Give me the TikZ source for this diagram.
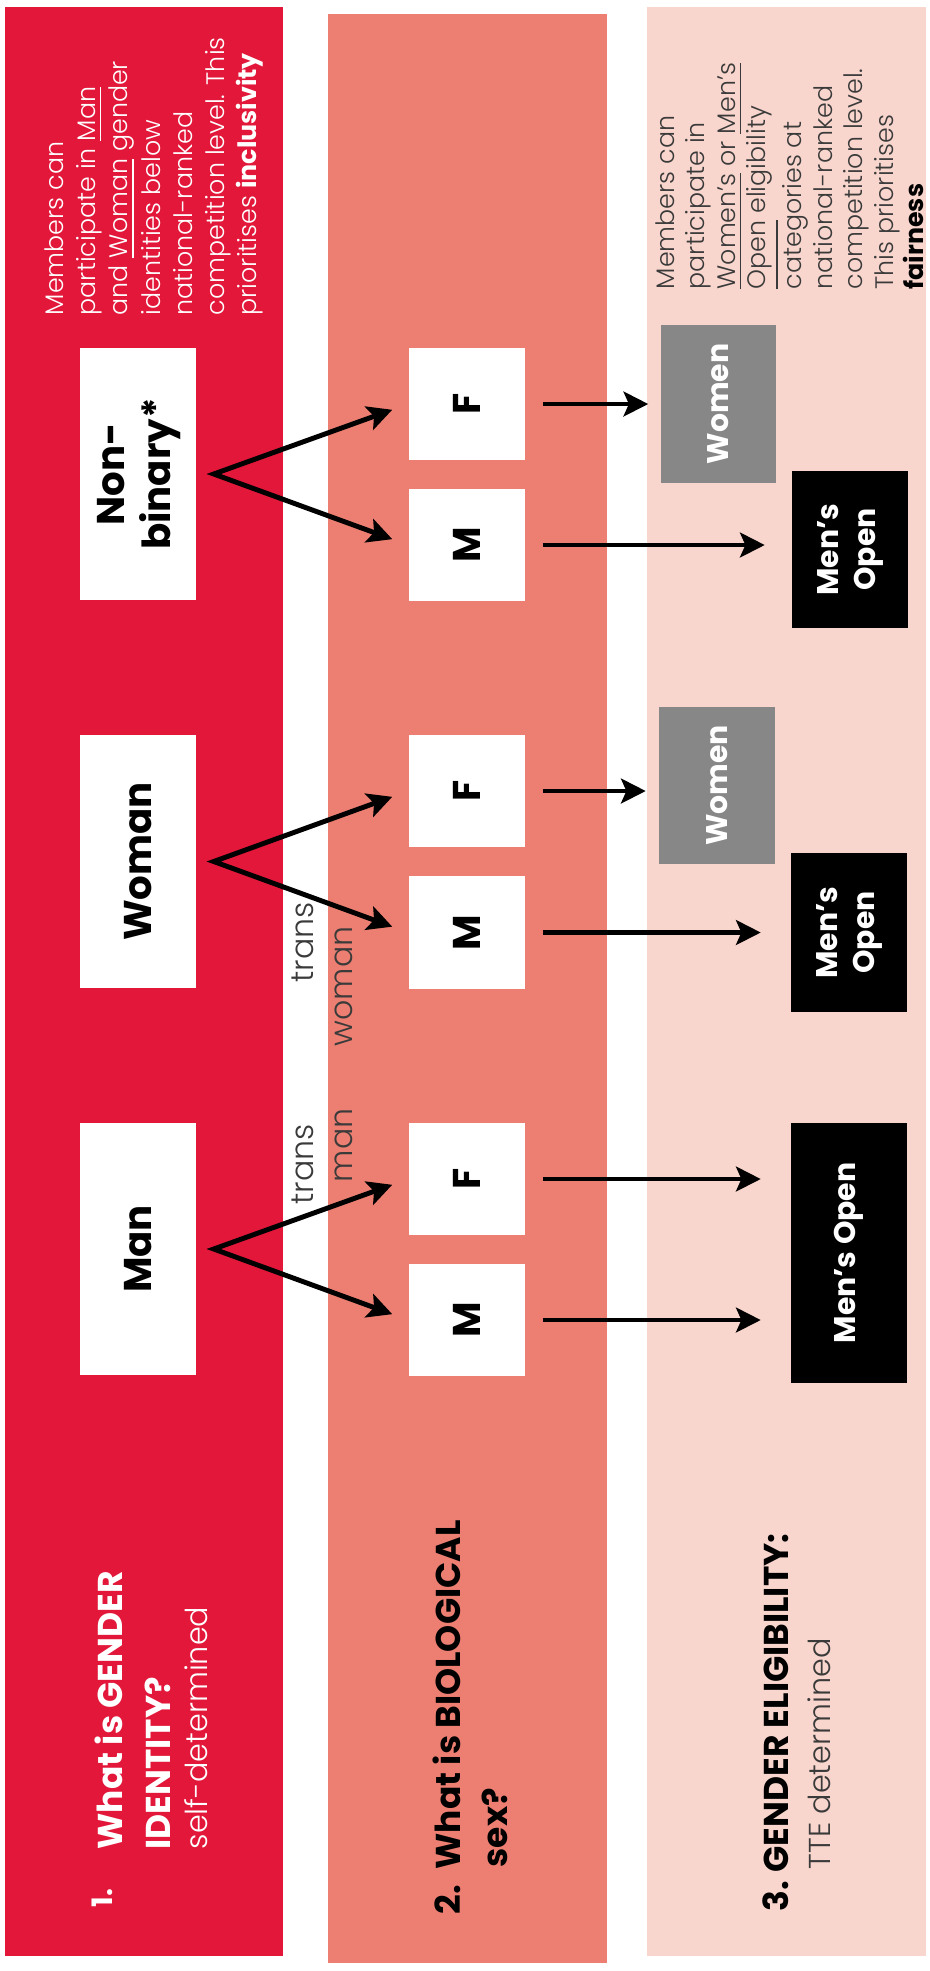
\documentclass[tikz,border=0pt]{standalone}
\usepackage{fontspec}
\setmainfont{Poppins}
\newfontfamily\lt{Poppins}[UprightFont=* Light, BoldFont=* Bold]
\usetikzlibrary{arrows.meta}
\definecolor{cred}{HTML}{E2173A}
\definecolor{csalmon}{HTML}{EC7F72}
\definecolor{cpale}{HTML}{F9D6CD}
\definecolor{cgraybox}{HTML}{878787}
\definecolor{cdark}{HTML}{3A3A3A}
\tikzset{
  wbox/.style={fill=white, inner sep=0pt, minimum width=1.16cm, font=\bfseries\fontsize{11}{13}\selectfont},
  sbox/.style={wbox, minimum height=1.12cm},
  gbox/.style={fill=cgraybox, text=white, inner sep=0pt, minimum width=1.15cm, font=\bfseries\fontsize{8.5}{10.5}\selectfont},
  kbox/.style={gbox, fill=black},
  rtext/.style={rotate=90, inner sep=0pt, anchor=base west},
  arr/.style={line width=1.4pt, -{Stealth[length=7pt, width=7pt, inset=1.5pt]}, shorten <=0.17cm},
  fork/.style={line width=1.4pt, {Stealth[length=7pt, width=7pt, inset=1.5pt]}-{Stealth[length=7pt, width=7pt, inset=1.5pt]}, shorten <=0.17cm, shorten >=0.17cm, line join=miter},
  hd/.style={rtext, font=\bfseries\fontsize{9.8}{12}\selectfont},
  sub/.style={rtext, font=\lt\fontsize{8.6}{10}\selectfont},
  tr/.style={rtext, text=cdark, font=\lt\fontsize{9}{11}\selectfont},
  desc/.style={rotate=90, inner sep=0pt, anchor=north west, align=left}
}
\begin{document}
\begin{tikzpicture}[x=0.01cm, y=-0.01cm]
\useasboundingbox (0,0) rectangle (929,1971);
\fill[white] (0,0) rectangle (929,1971);
% panels
\fill[cred] (5,7) rectangle (283,1956);
\fill[csalmon] (328,14) rectangle (607,1963);
\fill[cpale] (647,7) rectangle (926,1956);

% column 1 boxes
\node[wbox, minimum height=2.52cm] (nb) at (138,474) {\rotatebox{90}{\begin{tabular}{@{}c@{}}Non-\\binary*\end{tabular}}};
\node[wbox, minimum height=2.53cm] (wo) at (138,861.5) {\rotatebox{90}{Woman}};
\node[wbox, minimum height=2.52cm] (man) at (138,1249) {\rotatebox{90}{Man}};

% column 2 boxes
\node[sbox] (nbF) at (467,404) {\rotatebox{90}{F}};
\node[sbox] (nbM) at (467,545) {\rotatebox{90}{M}};
\node[sbox] (woF) at (467,791) {\rotatebox{90}{F}};
\node[sbox] (woM) at (467,932.5) {\rotatebox{90}{M}};
\node[sbox] (mF) at (467,1179) {\rotatebox{90}{F}};
\node[sbox] (mM) at (467,1320) {\rotatebox{90}{M}};

% column 3 boxes
\node[gbox, minimum height=1.58cm] (nbW) at (718.5,404) {\rotatebox{90}{Women}};
\node[kbox, minimum height=1.57cm] (nbO) at (850,549.5) {\rotatebox{90}{\begin{tabular}{@{}c@{}}Men’s\\Open\end{tabular}}};
\node[gbox, minimum height=1.57cm] (woW) at (717,785.5) {\rotatebox{90}{Women}};
\node[kbox, minimum height=1.59cm] (woO) at (849,932.5) {\rotatebox{90}{\begin{tabular}{@{}c@{}}Men’s\\Open\end{tabular}}};
\node[kbox, minimum height=2.60cm] (mO) at (849,1253) {\rotatebox{90}{Men’s Open}};

% fork apexes
\coordinate (nbA) at ([xshift=0.17cm]nb.east);
\coordinate (woA) at ([xshift=0.17cm]wo.east);
\coordinate (mA) at ([xshift=0.17cm]man.east);

\draw[fork] (nbF.west) -- (nbA) -- (nbM.west);
\draw[fork] (woF.west) -- (woA) -- (woM.west);
\draw[fork] (mF.west) -- (mA) -- (mM.west);

\draw[arr, shorten >=0.12cm] (nbF.east) -- (nbF.east -| nbW.west);
\draw[arr, shorten >=0.27cm] (nbM.east) -- (nbM.east -| nbO.west);
\draw[arr, shorten >=0.13cm] (woF.east) -- (woF.east -| woW.west);
\draw[arr, shorten >=0.30cm] (woM.east) -- (woM.east -| woO.west);
\draw[arr, shorten >=0.30cm] (mF.east) -- (mF.east -| mO.west);
\draw[arr, shorten >=0.30cm] (mM.east) -- (mM.east -| mO.west);

% trans labels
\node[tr] (t1) at (313,1205) {trans};
\node[tr] (t2) at (352,1183) {man};
\node[tr] (t3) at (313,983) {trans};
\node[tr] (t4) at (352,1047) {woman};

% headers
\node[hd, text=white, font=\bfseries\fontsize{8}{10}\selectfont] (h1n) at (113,1908) {1.};
\node[hd, text=white] (h1a) at (122,1850) {What is GENDER};
\node[hd, text=white] (h1b) at (170,1850) {IDENTITY?};
\node[sub, text=white] (h1c) at (207,1850) {self-determined};

\node[hd] (h2n) at (460,1915) {2.};
\node[hd] (h2a) at (460,1870) {What is BIOLOGICAL};
\node[hd] (h2b) at (507,1868) {sex?};

\node[hd] (h3n) at (788,1912) {3.};
\node[hd] (h3a) at (788,1873) {GENDER ELIGIBILITY:};
\node[sub, text=cdark] (h3b) at (830,1870) {TTE determined};

% descriptions
\node[desc, text=white, font=\lt\fontsize{7.2}{9.16}\selectfont] (d1) at (44,316) {Members can\\participate in \underline{Man}\\and \underline{Woman} gender\\identities below\\national-ranked\\competition level. This\\prioritises \textbf{inclusivity}};
\node[desc, text=cdark, font=\lt\fontsize{7.2}{8.65}\selectfont] (d3) at (655,290) {Members can\\participate in\\\underline{Women’s} or \underline{Men’s}\\\underline{Open} eligibility\\categories at\\national-ranked\\competition level.\\This prioritises\\\textcolor{black}{\textbf{fairness}}};
\end{tikzpicture}
\end{document}
